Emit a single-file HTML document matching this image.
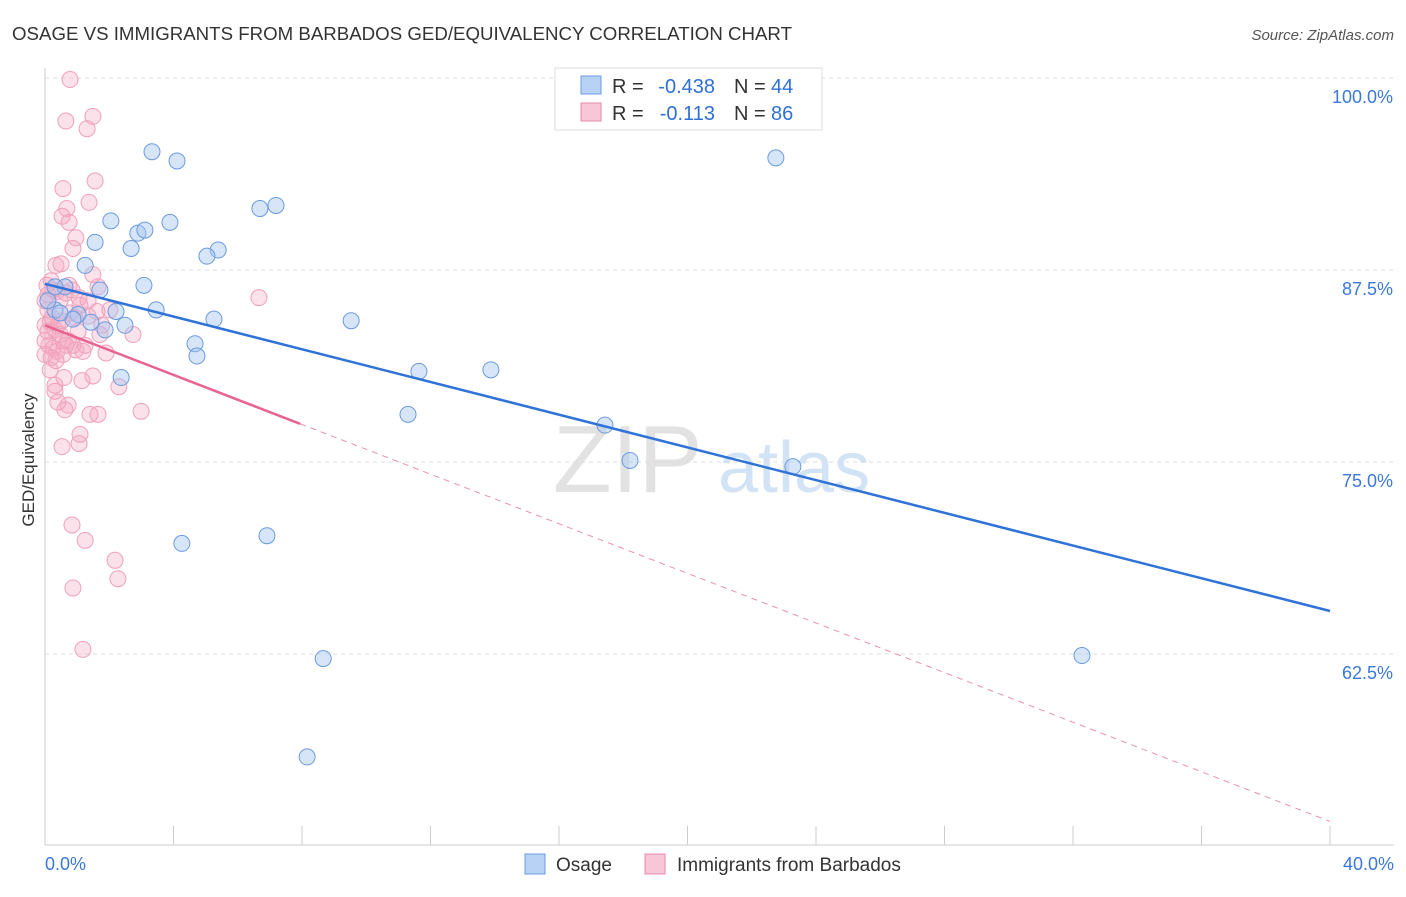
<!DOCTYPE html>
<html><head><meta charset="utf-8"><style>
body{margin:0;background:#fff;font-family:"Liberation Sans",sans-serif;}
svg text{font-family:"Liberation Sans",sans-serif;}
</style></head><body>
<svg id="chart" width="1406" height="892" xmlns="http://www.w3.org/2000/svg">
<text x="12" y="40" font-size="18" fill="#333" textLength="780" lengthAdjust="spacingAndGlyphs">OSAGE VS IMMIGRANTS FROM BARBADOS GED/EQUIVALENCY CORRELATION CHART</text>
<text x="1394" y="40" font-size="15" fill="#555" text-anchor="end" font-style="italic">Source: ZipAtlas.com</text>
<text x="34" y="460" font-size="17" fill="#333" text-anchor="middle" transform="rotate(-90 34 460)">GED/Equivalency</text>
<g><text x="553" y="492" font-size="96" fill="#e2e2e2" font-family="Liberation Serif,serif">ZIP</text><text x="718" y="492" font-size="72" fill="#d3e3f6">atlas</text></g>
<g id="grid"></g><g id="marks"></g>
<g>
<rect x="555" y="68" width="267" height="62" fill="#fff" stroke="#ddd"/>
<rect x="581" y="76" width="20" height="18" fill="#b8d2f5" stroke="#6a9be0"/>
<text x="612" y="93" font-size="20" fill="#333">R =</text>
<text x="715" y="93" font-size="20" fill="#2f6fd6" text-anchor="end">-0.438</text>
<text x="734" y="93" font-size="20" fill="#333">N =</text>
<text x="771" y="93" font-size="20" fill="#2f6fd6">44</text>
<rect x="581" y="103" width="20" height="18" fill="#f8c6d6" stroke="#e98aa8"/>
<text x="612" y="120" font-size="20" fill="#333">R =</text>
<text x="715" y="120" font-size="20" fill="#2f6fd6" text-anchor="end">-0.113</text>
<text x="734" y="120" font-size="20" fill="#333">N =</text>
<text x="771" y="120" font-size="20" fill="#2f6fd6">86</text>
</g>
<g>
<rect x="525" y="854" width="20" height="20" fill="#b8d2f5" stroke="#6a9be0"/>
<text x="556" y="871" font-size="19" fill="#333">Osage</text>
<rect x="645" y="854" width="20" height="20" fill="#f8c6d6" stroke="#e98aa8"/>
<text x="677" y="871" font-size="19" fill="#333">Immigrants from Barbados</text>
</g>
</svg>
<script>
const xTicks=[0,5,10,15,20,25,30,35,40];
const yTicks=[100,87.5,75,62.5];
const yTickLabels=["100.0%","87.5%","75.0%","62.5%"];
const blueX=[3.33,4.11,22.75,2.05,2.89,3.11,3.89,6.69,7.19,1.56,2.68,5.39,5.04,1.25,3.08,1.71,0.62,0.31,2.21,3.46,1.03,1.43,0.87,5.26,2.49,1.87,9.53,4.67,4.73,11.64,13.88,2.37,11.30,17.43,18.21,23.28,4.26,6.91,8.66,32.28,8.16,0.31,0.47,0.09];
const blueY=[95.2,94.6,94.8,90.7,89.9,90.1,90.6,91.5,91.7,89.3,88.9,88.8,88.4,87.8,86.5,86.2,86.4,86.4,84.8,84.9,84.6,84.1,84.3,84.3,83.9,83.6,84.2,82.7,81.9,80.9,81.0,80.5,78.1,77.4,75.1,74.7,69.7,70.2,62.2,62.4,55.8,84.9,84.7,85.5];
const pinkX=[0.78,1.49,0.65,1.31,1.56,0.56,1.37,0.68,0.53,0.75,0.96,0.87,0.34,0.50,1.49,0.19,0.75,1.65,0.09,0.37,1.06,1.34,1.62,6.66,0,0.16,0.31,0.47,0.12,0.25,0.37,0.56,0.72,1.03,0.87,0.96,0.56,1.90,1.18,0.19,2.74,0.31,1.15,1.49,2.30,0.31,0.72,0.62,1.40,1.65,2.99,1.09,1.06,0.53,0.84,1.25,2.18,2.27,0.87,1.18,0,0.09,0.22,0.40,0.53,0.78,0.93,1.34,1.77,0,0.09,0.47,0.65,0.84,1.09,0.16,0.59,0.40,1.71,2.02,0.25,0.06,0.34,0.65,1.25,0];
const pinkY=[99.9,97.5,97.2,96.7,93.3,92.8,91.9,91.5,91.0,90.6,89.6,88.9,87.8,87.9,87.2,86.8,86.5,86.4,85.9,86.1,85.7,85.5,84.8,85.7,83.9,84.1,83.6,83.3,82.6,82.4,82.2,82.9,82.9,83.5,82.6,82.3,82.0,82.1,82.2,81.8,83.3,80.0,80.3,80.6,79.9,79.6,78.7,78.4,78.1,78.1,78.3,76.8,76.2,76.0,70.9,69.9,68.6,67.4,66.8,62.8,85.5,84.9,84.4,83.9,84.2,84.7,84.4,84.5,83.9,82.9,83.5,85.5,86.0,86.2,85.2,81.0,80.5,78.9,83.3,84.9,86.2,86.5,81.6,82.6,82.6,82.0];
const blueTrend=[86.6,65.3];
const pinkTrend=[83.9,51.6];
const pinkSolidEnd=7.94;
const sx=v=>45+v/40*1285, sy=v=>78+(100-v)*15.36;
const NS="http://www.w3.org/2000/svg";
function mk(t,a,p){const e=document.createElementNS(NS,t);for(const k in a)e.setAttribute(k,a[k]);p.appendChild(e);return e;}
const g=document.getElementById('grid'),m=document.getElementById('marks');
yTicks.forEach((v,i)=>{
 const l=mk('line',{x1:45,x2:1394,y1:sy(v),y2:sy(v),stroke:'#ddd','stroke-dasharray':'4,4'},g);
 
 
 const t=mk('text',{x:1393,y:sy(v)+25,'font-size':18,fill:'#3b78d8','text-anchor':'end'},g);t.textContent=yTickLabels[i];
 
 
});
mk('line',{x1:45,x2:45,y1:68,y2:845,stroke:'#ccc'},g);
mk('line',{x1:45,x2:1394,y1:845,y2:845,stroke:'#ccc'},g);
for(let v=0;v<=40;v+=4){const t=mk('line',{x1:sx(v),x2:sx(v),y1:826,y2:845,stroke:'#ccc'},g);
 
 }
[[0,"0.0%","start",45],[40,"40.0%","end",1394]].forEach(d=>{const t=mk('text',{x:d[3],y:870,'font-size':18,fill:'#3b78d8','text-anchor':d[2]},g);t.textContent=d[1];
 
 });
pinkX.forEach((x,i)=>{const c=mk('circle',{cx:sx(x),cy:sy(pinkY[i]),r:8,fill:'rgba(244,168,194,0.35)',stroke:'#f0a0ba','stroke-width':1},m);
 
 });
blueX.forEach((x,i)=>{const c=mk('circle',{cx:sx(x),cy:sy(blueY[i]),r:8,fill:'rgba(166,198,242,0.45)',stroke:'#6b9ade','stroke-width':1},m);
 
 });
const pAt=x=>pinkTrend[0]+(pinkTrend[1]-pinkTrend[0])*x/40;
let l=mk('line',{x1:sx(pinkSolidEnd),y1:sy(pAt(pinkSolidEnd)),x2:sx(40),y2:sy(pinkTrend[1]),stroke:'#ec8fae','stroke-dasharray':'6,5','stroke-width':1},m);


l=mk('line',{x1:sx(0),y1:sy(pinkTrend[0]),x2:sx(pinkSolidEnd),y2:sy(pAt(pinkSolidEnd)),stroke:'#e8648f','stroke-width':2.5},m);


l=mk('line',{x1:sx(0),y1:sy(blueTrend[0]),x2:sx(40),y2:sy(blueTrend[1]),stroke:'#2f72d8','stroke-width':2.5},m);


</script>
</body></html>
